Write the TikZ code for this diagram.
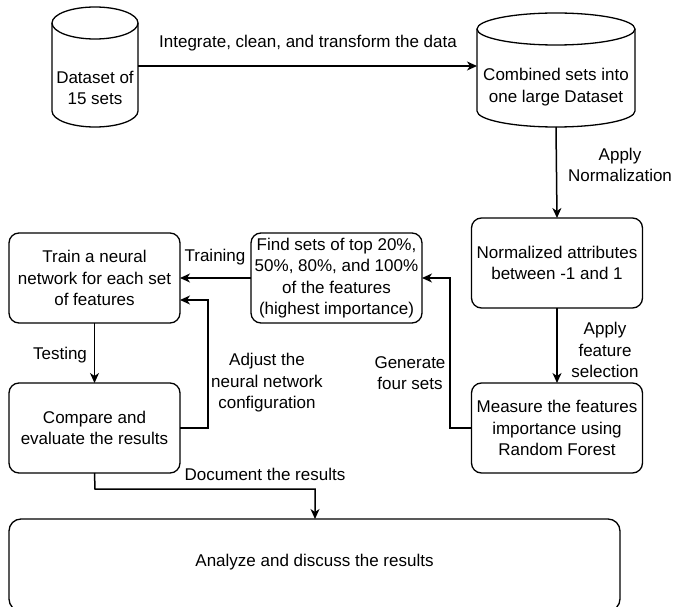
\documentclass[tikz,border=0pt]{standalone}
\usepackage{fontspec}
\setmainfont{Liberation Sans}
\usetikzlibrary{arrows.meta}
\begin{document}
\begin{tikzpicture}[x=1pt,y=1pt,
  every node/.style={font=\fontsize{17}{21.5}\selectfont, align=center, inner sep=0pt, outer sep=0pt},
  boxst/.style={draw, rounded corners=10pt, line width=1.3pt, minimum width=171pt, minimum height=90pt},
  cylshape/.style={line width=1.3pt},
  ghost/.style={minimum width=#1, minimum height=120pt},
  arr/.style={line width=1.5pt, -{Stealth[length=10pt,width=9pt,inset=3pt]}},
  lbl/.style={}
]
\useasboundingbox (0,0) rectangle (673,-607);

% cylinders
\draw[cylshape] (52,-23) -- (52,-111) arc[start angle=180,end angle=360,x radius=43pt,y radius=16pt] -- (138,-23);
\draw[cylshape] (95,-23) ellipse[x radius=43pt,y radius=16pt];
\node[ghost=86pt] (c1) at (95,-67) {};
\node (c1t) at (95,-88) {Dataset of\\15 sets};

\draw[cylshape] (477,-29) -- (477,-111) arc[start angle=180,end angle=360,x radius=79pt,y radius=16pt] -- (635,-29);
\draw[cylshape] (556,-29) ellipse[x radius=79pt,y radius=16pt];
\node[ghost=158pt] (c2) at (556,-67) {};
\node (c2t) at (556,-87) {Combined sets into\\one large Dataset};

% boxes
\node[boxst] (norm) at (557,-263) {Normalized attributes\\between -1 and 1};
\node[boxst] (meas) at (557,-428) {Measure the features\\importance using\\Random Forest};
\node[boxst] (find) at (336.5,-278) {Find sets of top 20\%,\\50\%, 80\%, and 100\%\\of the features\\(highest importance)};
\node[boxst] (train) at (94.5,-278) {Train a neural\\network for each set\\of features};
\node[boxst] (comp) at (94.5,-428) {Compare and\\evaluate the results};
\node[draw, rounded corners=12pt, line width=1.3pt, minimum width=611pt, minimum height=92pt] (anal) at (314.5,-565) {};
\node (analt) at (314.5,-562) {Analyze and discuss the results};

% connectors
\draw[arr] (c1.east |- 0,-66) -- (c2.west |- 0,-66);
\node[lbl] (l1) at (308,-43) {Integrate, clean, and transform the data};

\draw[arr] (c2.south) -- (norm.north);
\node[lbl] (l2) at (620,-165) {Apply\\Normalization};

\draw[arr] (norm.south) -- (meas.north);
\node[lbl] (l3) at (605,-350) {Apply\\feature\\selection};

\coordinate (g1) at (450,-428);
\coordinate (g2) at (450,-278);
\draw[arr] (meas.west) -- (g1) -- (g2) -- (find.east);
\node[lbl] (l4) at (410,-373) {Generate\\four sets};

\draw[arr] (find.west) -- (train.east);
\node[lbl] (l5) at (215,-257) {Training};

\draw[arr] (train.south) -- (comp.north);
\node[lbl] (l6) at (60,-355) {Testing};

\coordinate (a1) at (208,-428);
\coordinate (a2) at (208,-300);
\draw[arr] (comp.east) -- (a1) -- (a2) -- (train.east |- a2);
\node[lbl] (l7) at (267,-383) {Adjust the\\neural network\\configuration};

\coordinate (d1) at (95,-489);
\coordinate (d2) at (315,-489);
\draw[arr] (comp.south) -- (d1) -- (d2) -- (d2 |- anal.north);
\node[lbl] (l8) at (265,-474) {Document the results};
\end{tikzpicture}
\end{document}
